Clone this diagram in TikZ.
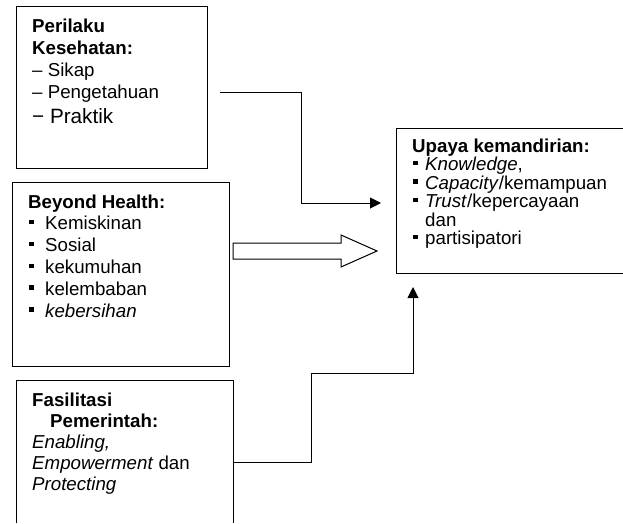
\documentclass[tikz,border=0pt]{standalone}
\usepackage{fontspec}
\setmainfont{Liberation Sans}
\usetikzlibrary{arrows.meta,calc}
\newcommand{\bul}[1]{\makebox[#1][l]{\rule[5.5pt]{4.3pt}{4.3pt}}}
\newcommand{\txtlines}[2]{\vtop{\lineskiplimit=-50pt\lineskip=0pt\baselineskip=#1\relax #2}}
\tikzset{
  boxdraw/.style={draw, line width=1pt, inner sep=0pt, anchor=north west},
  boxfree/.style={inner sep=0pt, anchor=north west},
  side/.style={line width=1pt},
  txt/.style={anchor=base west, inner sep=0pt, font=\fontsize{18.7pt}{22pt}\selectfont},
  conn/.style={line width=1pt, -{Triangle[length=11pt,width=11pt]}},
  hollow/.style={line width=1pt, fill=white, line join=miter},
}
\begin{document}
\begin{tikzpicture}[x=1pt,y=-1pt]
\useasboundingbox (0,0) rectangle (623,523);
% boxes
\node[boxdraw, minimum width=191pt, minimum height=162pt] (b1) at (16,6) {};
\node[boxdraw, minimum width=217pt, minimum height=184pt] (b2) at (12,182) {};
\node[boxfree, minimum width=217pt, minimum height=143pt] (b3) at (16,380) {};
\node[boxfree, minimum width=227pt, minimum height=145pt] (b4) at (396,128) {};
\draw[side] (b3.south west) -- (b3.north west) -- (b3.north east) -- (b3.south east);
\draw[side] (b4.north east) -- (b4.north west) -- (b4.south west) -- (b4.south east);
% texts
\node[txt] (t1) at (32,32) {\txtlines{22pt}{%
  \hbox{\bfseries Perilaku}%
  \hbox{\bfseries Kesehatan:}%
  \hbox{– Sikap}%
  \hbox{– Pengetahuan}%
  \vskip3pt
  \hbox{\fontsize{20.7pt}{24pt}\selectfont − Praktik}}};
\node[txt] (t2) at (28,208) {\txtlines{21.8pt}{%
  \hbox{\bfseries Beyond Health:}%
  \hbox{\hspace*{1pt}\bul{16pt}Kemiskinan}%
  \hbox{\hspace*{1pt}\bul{16pt}Sosial}%
  \hbox{\hspace*{1pt}\bul{16pt}kekumuhan}%
  \hbox{\hspace*{1pt}\bul{16pt}kelembaban}%
  \hbox{\hspace*{1pt}\bul{16pt}\textit{kebersihan}}}};
\node[txt] (t3) at (32,406) {\txtlines{21pt}{%
  \hbox{\bfseries Fasilitasi}%
  \hbox{\hspace*{18pt}\bfseries Pemerintah:}%
  \hbox{\textit{Enabling,}}%
  \hbox{\textit{Empowerment} dan}%
  \hbox{\textit{Protecting}}}};
\node[txt] (t4) at (412,152) {\txtlines{18.5pt}{%
  \hbox{\bfseries Upaya kemandirian:}%
  \hbox{\hspace*{1pt}\bul{12pt}\textit{Knowledge},}%
  \hbox{\hspace*{1pt}\bul{12pt}\textit{Capacity}/kemampuan}%
  \hbox{\hspace*{1pt}\bul{12pt}\textit{Trust}/kepercayaan}%
  \hbox{\hspace*{13pt}dan}%
  \hbox{\hspace*{1pt}\bul{12pt}partisipatori}}};
% connectors
\coordinate (c1s) at (220,92);
\coordinate (c1e) at (381,203);
\draw[conn] (c1s) -| (301,203) -- (c1e);
\coordinate (c3s) at ($(b3.north east)+(0,82)$);
\coordinate (c3e) at (413,287);
\draw[conn] (c3s) -- (311,462) -- (311,373) -- (413,373) -- (c3e);
% hollow arrow
\draw[hollow] (233,243) -- (341,243) -- (341,235) -- (377,251) -- (341,267) -- (341,259) -- (233,259) -- cycle;
\end{tikzpicture}
\end{document}
